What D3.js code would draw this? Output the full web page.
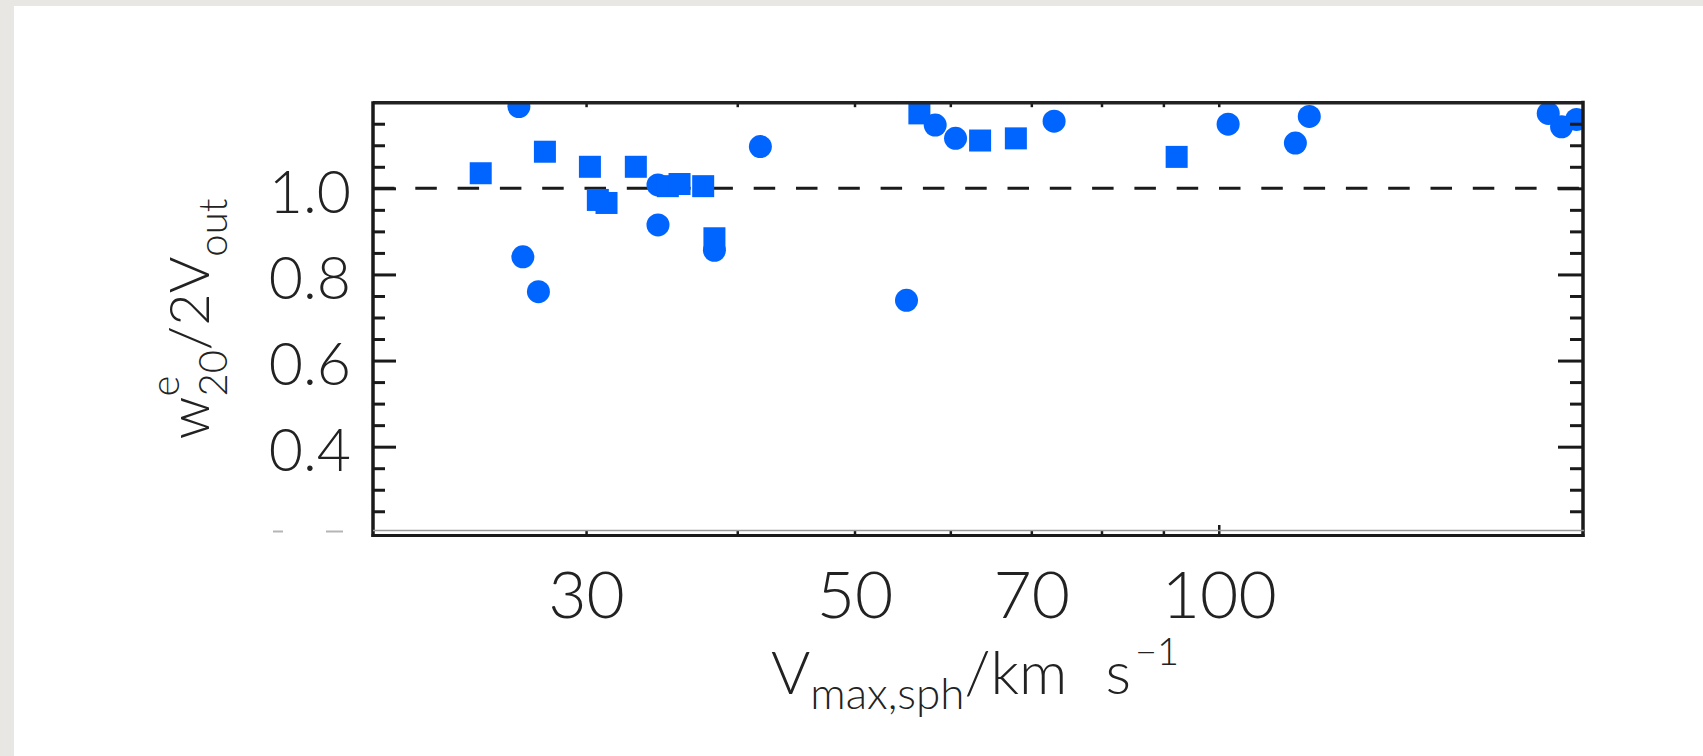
<!DOCTYPE html>
<html>
<head>
<meta charset="utf-8">
<script src="https://cdn.jsdelivr.net/npm/d3@7"></script>
<style>
  html, body { margin: 0; padding: 0; background: #e9e7e4; }
  svg { display: block; }
  text { font-family: Lato, "Open Sans", "DejaVu Sans", sans-serif; font-weight: 300; fill: #222; }
</style>
</head>
<body>
<svg id="chart" width="1703" height="756"></svg>
<script>
// ---- data ----
const circleV = [26.4, 26.6, 27.4, 34.4, 34.4, 38.3, 41.8, 55.2, 58.3, 60.6, 73.1, 101.8, 115.7, 118.8, 187.2, 192.0, 197.6];
const circleR = [1.19, 0.841, 0.760, 1.008, 0.915, 0.856, 1.097, 0.740, 1.147, 1.116, 1.156, 1.149, 1.105, 1.167, 1.174, 1.143, 1.160];
const squareV = [24.55, 27.74, 30.22, 30.68, 31.19, 32.98, 35.05, 35.84, 37.49, 38.3, 56.57, 63.5, 67.97, 92.3];
const squareR = [1.035, 1.085, 1.050, 0.973, 0.966, 1.050, 1.005, 1.010, 1.005, 0.884, 1.174, 1.111, 1.116, 1.073];
const xDomain = [20, 200];
const yDomain = [0.2, 1.2];
const xTicks = [30, 40, 50, 60, 70, 80, 90, 100];
const xTickLabels = ["30", "", "50", "", "70", "", "", "100"];
const yMajor = [0.4, 0.6, 0.8, 1.0];
const yMajorLabels = ["0.4", "0.6", "0.8", "1.0"];
const yMinor = [0.25, 0.3, 0.35, 0.45, 0.5, 0.55, 0.65, 0.7, 0.75, 0.85, 0.9, 0.95, 1.05, 1.1, 1.15];
const refLine = 1.0;

const svg = d3.select("#chart");
const L = 373, R = 1583, T = 102.2, B = 532.8;
const x = d3.scaleLog().domain(xDomain).range([L, R]);
const y = d3.scaleLinear().domain(yDomain).range([B, T]);
const blue = "#0064ff";

// slide background
svg.append("rect").attr("x", 14).attr("y", 6).attr("width", 1703 - 14).attr("height", 756 - 6).attr("fill", "#ffffff");

// clip
svg.append("clipPath").attr("id", "plotclip").append("rect")
  .attr("x", L).attr("y", T + 1).attr("width", R - L).attr("height", B - T);

const plot = svg.append("g").attr("clip-path", "url(#plotclip)");

// dashed reference line
plot.append("line")
  .attr("x1", L).attr("x2", R).attr("y1", y(refLine)).attr("y2", y(refLine))
  .attr("stroke", "#1a1a1a").attr("stroke-width", 3)
  .attr("stroke-dasharray", "21.5,20.8");

// markers
plot.selectAll("circle.pt").data(circleV.map((v, i) => [v, circleR[i]])).join("circle")
  .attr("class", "pt").attr("cx", d => x(d[0])).attr("cy", d => y(d[1])).attr("r", 11.5).attr("fill", blue);
const s = 22;
plot.selectAll("rect.pt").data(squareV.map((v, i) => [v, squareR[i]])).join("rect")
  .attr("class", "pt").attr("x", d => x(d[0]) - s / 2).attr("y", d => y(d[1]) - s / 2)
  .attr("width", s).attr("height", s).attr("fill", blue);

// axes via d3
const axStyle = g => { g.select(".domain").remove(); g.selectAll(".tick line").attr("stroke", "#1a1a1a").attr("stroke-width", 3); };

// left major
const gl = svg.append("g").attr("transform", `translate(${L},0)`)
  .call(d3.axisLeft(y).tickValues(yMajor).tickSize(-23).tickPadding(22).tickFormat((d, i) => yMajorLabels[i]))
  .call(axStyle);
gl.selectAll("text").attr("dy", null).attr("y", 24).style("font-size", "59px").style("font-family", null).attr("fill", "#222");
svg.append("g").attr("transform", `translate(${L},0)`)
  .call(d3.axisLeft(y).tickValues(yMinor).tickSize(-12).tickFormat(""))
  .call(axStyle);
// right
svg.append("g").attr("transform", `translate(${R},0)`)
  .call(d3.axisRight(y).tickValues(yMajor).tickSize(-25).tickFormat(""))
  .call(axStyle);
svg.append("g").attr("transform", `translate(${R},0)`)
  .call(d3.axisRight(y).tickValues(yMinor).tickSize(-13).tickFormat(""))
  .call(axStyle);
// bottom
const gb = svg.append("g").attr("transform", `translate(0,535)`)
  .call(d3.axisBottom(x).tickValues(xTicks).tickSize(-5).tickFormat((d, i) => xTickLabels[i]))
  .call(axStyle);
gb.selectAll(".tick line").attr("y2", d => d === 100 ? -10 : -5).attr("stroke-width", 2.5);
gb.selectAll("text").attr("dy", null).attr("y", 83).style("font-size", "66px").style("font-family", null).attr("fill", "#222");
// top
const gt = svg.append("g").attr("transform", `translate(0,${T})`)
  .call(d3.axisTop(x).tickValues(xTicks).tickSize(-5).tickFormat(""))
  .call(axStyle);
gt.selectAll(".tick line").attr("stroke-width", 2.5);

// frame
svg.append("line").attr("x1", L).attr("x2", R).attr("y1", T + 0.5).attr("y2", T + 0.5).attr("stroke", "#222").attr("stroke-width", 3.5);
svg.append("line").attr("x1", L).attr("x2", L).attr("y1", T - 1).attr("y2", 537).attr("stroke", "#1a1a1a").attr("stroke-width", 3.5);
svg.append("line").attr("x1", R).attr("x2", R).attr("y1", T - 1.5).attr("y2", 537).attr("stroke", "#1a1a1a").attr("stroke-width", 3.5);
svg.append("line").attr("x1", L).attr("x2", R + 1).attr("y1", 530.5).attr("y2", 530.5).attr("stroke", "#9a9a9a").attr("stroke-width", 1.5);
svg.append("line").attr("x1", L - 1.5).attr("x2", R + 1.5).attr("y1", 535.5).attr("y2", 535.5).attr("stroke", "#1a1a1a").attr("stroke-width", 3);

// remnants of hidden 0.2 label
svg.append("rect").attr("x", 273).attr("y", 530.5).attr("width", 10).attr("height", 2).attr("fill", "#b5b5b5");
svg.append("rect").attr("x", 326).attr("y", 530.5).attr("width", 17).attr("height", 2).attr("fill", "#b5b5b5");

// rich text helper
function richText(g, pieces) {
  let xCur = 0, lastStart = 0;
  const nodes = [];
  pieces.forEach(p => {
    const start = p.stack ? lastStart : xCur;
    const t = g.append("text").attr("x", start).attr("y", p.dy || 0)
      .style("font-size", p.size + "px").attr("xml:space", "preserve").style("white-space", "pre").text(p.text);
    const w = t.node().getComputedTextLength();
    if (!p.stack) lastStart = start;
    xCur = Math.max(xCur, start + w + (p.after || 0));
    nodes.push(t);
  });
  const total = xCur;
  nodes.forEach(t => t.attr("x", +t.attr("x") - total / 2));
}

// x label
const gx = svg.append("g").attr("transform", "translate(975,694)");
richText(gx, [
  { text: "V", size: 60 },
  { text: "max,sph", size: 44, dy: 15 },
  { text: "/km", size: 60, after: 38 },
  { text: "s", size: 60, after: 4 },
  { text: "\u22121", size: 38, dy: -29 }
]);

// y label
const gy = svg.append("g").attr("transform", "translate(209,319) rotate(-90)");
richText(gy, [
  { text: "w", size: 56 },
  { text: "e", size: 40, dy: -30 },
  { text: "20", size: 40, dy: 18, stack: true },
  { text: "/2V", size: 56 },
  { text: "out", size: 40, dy: 18 }
]);
</script>
</body>
</html>
